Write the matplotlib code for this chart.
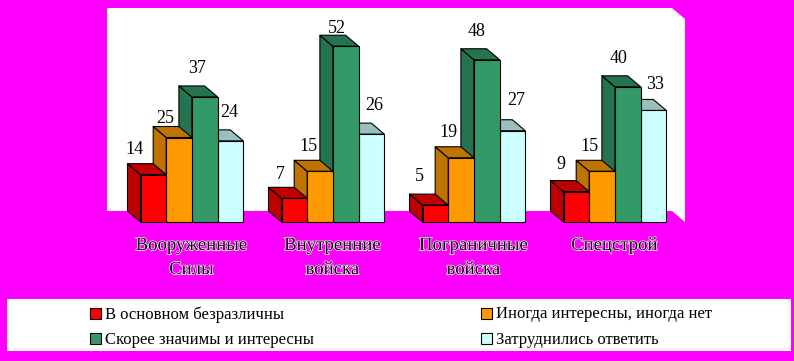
import matplotlib
matplotlib.use('Agg')
import matplotlib.pyplot as plt
import matplotlib.patheffects as pe
from matplotlib.patches import Polygon, Rectangle

categories = ['Вооруженные\nСилы', 'Внутренние\nвойска', 'Пограничные\nвойска', 'Спецстрой']
series = ['В основном безразличны', 'Иногда интересны, иногда нет',
          'Скорее значимы и интересны', 'Затруднились ответить']
indifferent = [14, 7, 5, 9]
sometimes = [25, 15, 19, 15]
meaningful = [37, 52, 48, 40]
no_answer = [24, 26, 27, 33]
values = [indifferent, sometimes, meaningful, no_answer]

front = ['#FF0000', '#FF9900', '#339966', '#CCFFFF']
shade = ['#BF0000', '#BF7300', '#267350', '#99BFBF']
bg = '#FF00FF'

# layout in pixels
W, H = 794, 361
base = 222
scale = 3.38
dx, dy = 13, 11
group_x = [140.5, 281.5, 422.5, 563.5]
bar_w = 25.7

# label offsets from the bar's top-front-left corner, per group / series
label_dx = [[-6, -1, 5, 12], [-1, 1, 4, 16], [-3, 0, 3, 17], [-3, 0, 4, 15]]
label_dy = [[-25, -19, -28, -28], [-24, -25, -18, -29], [-29, -25, -28, -30], [-27, -25, -28, -26]]

fig = plt.figure(figsize=(W / 100, H / 100), dpi=100, facecolor=bg)
ax = fig.add_axes([0, 0, 1, 1])
ax.set_xlim(0, W)
ax.set_ylim(H, 0)
ax.axis('off')

# back wall
ax.add_patch(Polygon([(107, 8), (672, 8), (685, 19), (685, 222), (672, 211), (107, 211)],
                     fc='white', ec='none'))


def draw_bar(x, h, s):
    top = base - h * scale
    r = x + bar_w
    # left side, top, then the front face
    ax.add_patch(Polygon([(x - dx, top - dy), (x, top), (x, base), (x - dx, base - dy)],
                         fc=shade[s], ec='black', lw=0.8, joinstyle='round'))
    ax.add_patch(Polygon([(x - dx, top - dy), (r - dx, top - dy), (r, top), (x, top)],
                         fc=shade[s], ec='black', lw=0.8, joinstyle='round'))
    ax.add_patch(Rectangle((x, top), bar_w, h * scale, fc=front[s], ec='black', lw=0.8))


for g, gx in enumerate(group_x):
    # back to front, the lightest bar is covered by the one on its left
    for s in range(3, -1, -1):
        draw_bar(gx + s * bar_w, values[s][g], s)
    for s in range(4):
        x = gx + s * bar_w
        y = base - values[s][g] * scale
        ax.text(x + label_dx[g][s], y + label_dy[g][s], str(values[s][g]), ha='center', va='center',
                fontsize=13, family='Liberation Serif', color='black')
    ax.text(gx + 2 * bar_w - 0.5, 237, categories[g], ha='center', va='top', fontsize=13.5,
            family='Liberation Serif', color='black', linespacing=1.55,
            path_effects=[pe.withStroke(linewidth=1.0, foreground='white')])

# legend box
ax.add_patch(Rectangle((7, 299), 784, 52, fc='white', ec='none'))
legend_x = [90, 481]
legend_y = [314, 339]
cols = [0, 1, 0, 1]
rows = [0, 0, 1, 1]
for s in range(4):
    lx = legend_x[cols[s]]
    ly = legend_y[rows[s]]
    ax.add_patch(Rectangle((lx, ly - 5.7), 11, 11, fc=front[s], ec='black', lw=0.8))
    ax.text(lx + 15, ly + 0.5, series[s], ha='left', va='center', fontsize=12,
            family='Liberation Serif', color='black')

fig.savefig('out.png', dpi=100, facecolor=bg)
